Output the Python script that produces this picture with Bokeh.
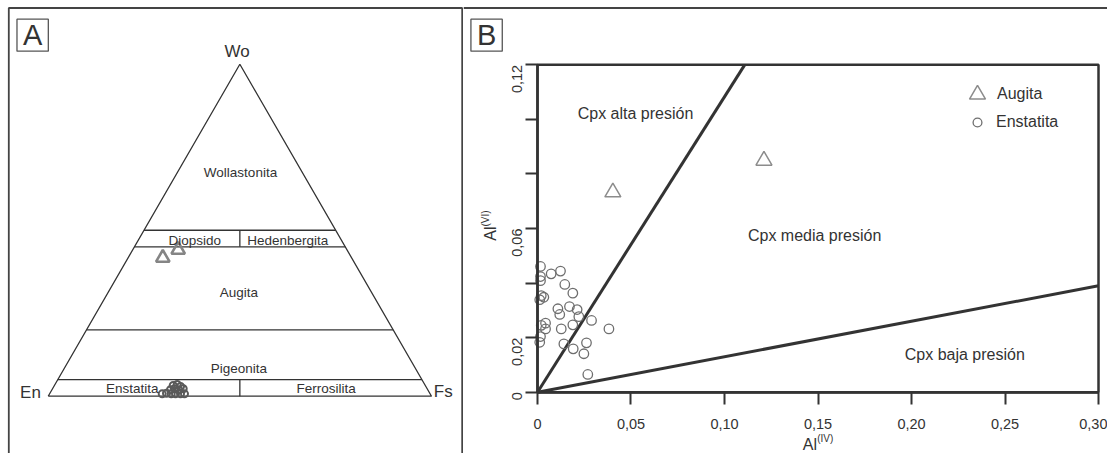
import math
from bokeh.plotting import figure
from bokeh.models import Range1d, FixedTicker, Label, Legend, LegendItem, Span, BoxAnnotation
from bokeh.layouts import row
from bokeh.embed import file_html
from bokeh.resources import INLINE

FONT = "Liberation Sans"
INK = "#333333"

# ---------------- Panel A data (ternary fractions Wo, Fs; En = 1 - Wo - Fs) ----------------
aug_wo = [0.417, 0.441]
aug_fs = [0.0905, 0.1186]
ens_wo = [0.0072, 0.0090, 0.0072, 0.0072, 0.0072, 0.0072, 0.0193, 0.0223, 0.0193, 0.0223, 0.0352, 0.0292, 0.0322]
ens_fs = [0.2938, 0.3041, 0.3173, 0.3285, 0.3416, 0.3520, 0.3094, 0.3184, 0.3311, 0.3411, 0.3190, 0.3306, 0.3100]
field_wo_limits = [0.50, 0.45, 0.20, 0.05]          # horizontal field boundaries
field_split_segments = [(0.45, 0.50), (0.0, 0.05)]   # En = Fs splits
field_names = ["Wollastonita", "Diopsido", "Hedenbergita", "Augita", "Pigeonita", "Enstatita", "Ferrosilita"]
vertex_names = ["Wo", "En", "Fs"]

# ---------------- Panel B data ----------------
aug_al_iv = [0.0403, 0.1211]
aug_al_vi = [0.0733, 0.0849]
ens_al_iv = [0.0016, 0.0016, 0.0016, 0.0073, 0.0123, 0.0146, 0.0189, 0.0034, 0.0012, 0.0109,
             0.0119, 0.0171, 0.0212, 0.0221, 0.0289, 0.0189, 0.0127, 0.0043, 0.0043, 0.0020,
             0.0016, 0.0012, 0.0141, 0.0191, 0.0262, 0.0248, 0.0269, 0.0382, 0.0020]
ens_al_vi = [0.0461, 0.0424, 0.0409, 0.0434, 0.0444, 0.0395, 0.0363, 0.0348, 0.0339, 0.0306,
             0.0285, 0.0314, 0.0303, 0.0277, 0.0263, 0.0247, 0.0232, 0.0253, 0.0232, 0.0245,
             0.0204, 0.0183, 0.0177, 0.0159, 0.0181, 0.0141, 0.0065, 0.0232, 0.0354]
alta_line_x = [0.0, 0.1108]
alta_line_y = [0.0, 0.12]
baja_line_x = [0.0, 0.30]
baja_line_y = [0.0, 0.039]
x_ticks = [0.0, 0.05, 0.10, 0.15, 0.20, 0.25, 0.30]
x_tick_labels = ["0", "0,05", "0,10", "0,15", "0,20", "0,25", "0,30"]
y_ticks = [0.0, 0.02, 0.04, 0.06, 0.08, 0.10, 0.12]
y_tick_labels = ["0", "0,02", "", "0,06", "", "", "0,12"]
region_names = ["Cpx alta presión", "Cpx media presión", "Cpx baja presión"]

S3 = math.sqrt(3) / 2


def tern(wo, fs):
    return fs + wo / 2.0, wo * S3


# ============================ Panel A ============================
pa = figure(width=463, height=453, x_range=Range1d(-0.12445, 1.08348),
            y_range=Range1d(-0.14949, 1.03235), output_backend="svg",
            toolbar_location=None, min_border=0,
            x_axis_location=None, y_axis_location=None)
pa.grid.visible = False
pa.outline_line_color = None
pa.background_fill_color = "white"

# outer frame of the figure (left edge, top edge, separator between panels)
pa.line([-0.10279, -0.10279, 1.08010, 1.08010], [-0.2, 1.01278, 1.01278, -0.2],
        line_color="#444444", line_width=1.8)

# triangle outline
tx = [tern(0, 0)[0], tern(0, 1)[0], tern(1, 0)[0], tern(0, 0)[0]]
ty = [tern(0, 0)[1], tern(0, 1)[1], tern(1, 0)[1], tern(0, 0)[1]]
pa.line(tx, ty, line_color=INK, line_width=1.3)
# horizontal field boundaries
hx, hy = [], []
for w in field_wo_limits:
    a = tern(w, 0)
    b = tern(w, 1 - w)
    hx.append([a[0], b[0]])
    hy.append([a[1], b[1]])
# En = Fs splits
for w0, w1 in field_split_segments:
    a = tern(w0, (1 - w0) / 2)
    b = tern(w1, (1 - w1) / 2)
    hx.append([a[0], b[0]])
    hy.append([a[1], b[1]])
pa.multi_line(hx, hy, line_color=INK, line_width=1.3)

# points
ax_, ay_ = zip(*[tern(w, f) for w, f in zip(aug_wo, aug_fs)])
ex_, ey_ = zip(*[tern(w, f) for w, f in zip(ens_wo, ens_fs)])
pa.scatter(list(ex_), list(ey_), marker="circle", size=7, fill_color=None,
           line_color="#5a5a5a", line_width=2)
pa.scatter(list(ax_), list(ay_), marker="triangle", size=13.5, fill_color=None,
           line_color="#858585", line_width=2.6)

# field labels
field_pos = [(0.5017, 0.5828), (0.3825, 0.4062), (0.6251, 0.4062), (0.4973, 0.2698),
             (0.4973, 0.0730), (0.2192, 0.0193), (0.7253, 0.0193)]
for name, (x, y) in zip(field_names, field_pos):
    pa.add_layout(Label(x=x, y=y, text=name, text_align="center", text_baseline="middle",
                        text_font=FONT, text_font_size="13.5px", text_color=INK))
vertex_pos = [(0.4931, 0.9001), (-0.0462, 0.0104), (1.0305, 0.0130)]
for name, (x, y) in zip(vertex_names, vertex_pos):
    pa.add_layout(Label(x=x, y=y, text=name, text_align="center", text_baseline="middle",
                        text_font=FONT, text_font_size="17px", text_color=INK))

# panel letter box
pa.add_layout(Label(x=-0.04057, y=0.94195, text="A", text_align="center", text_baseline="middle",
                    text_font=FONT, text_font_size="29px", text_color=INK,
                    border_line_color="#555555", border_line_width=1.3,
                    background_fill_color="white",
                    padding=dict(left=6, right=6, top=0, bottom=0)))

# ============================ Panel B ============================
pb = figure(width=644, height=453, x_range=Range1d(-0.03957, 0.30481),
            y_range=Range1d(-0.02247, 0.14359),
            output_backend="svg", toolbar_location=None, min_border=0)
pb.grid.visible = False
pb.outline_line_color = None

# top edge of the outer figure frame
pb.add_layout(Span(location=0.14084, dimension="width", line_color="#444444", line_width=1.8))
# plot box
pb.add_layout(BoxAnnotation(left=0, right=0.30, bottom=0, top=0.12, fill_color=None,
                            line_color=INK, line_width=2.5, line_alpha=1.0))

for ax in (pb.xaxis[0], pb.yaxis[0]):
    ax.fixed_location = 0
    ax.axis_line_color = INK
    ax.axis_line_width = 2.5
    ax.major_tick_line_color = INK
    ax.major_tick_line_width = 2
    ax.major_tick_out = 12
    ax.major_tick_in = 0
    ax.minor_tick_line_color = None
    ax.major_label_text_font = FONT
    ax.major_label_text_font_size = "14.5px"
    ax.major_label_text_color = INK

pb.xaxis.bounds = (0, 0.30)
pb.xaxis.ticker = FixedTicker(ticks=x_ticks)
pb.xaxis.major_label_overrides = dict(zip(x_ticks, x_tick_labels))
pb.xaxis.major_label_standoff = 15
pb.yaxis.bounds = (0, 0.12)
pb.yaxis.ticker = FixedTicker(ticks=y_ticks)
pb.yaxis.major_label_overrides = dict(zip(y_ticks, y_tick_labels))
pb.yaxis.major_label_orientation = math.pi / 2
pb.yaxis.major_label_standoff = 8

pb.line(alta_line_x, alta_line_y, line_color=INK, line_width=3)
pb.line(baja_line_x, baja_line_y, line_color=INK, line_width=3)

ens_r = pb.scatter(ens_al_iv, ens_al_vi, marker="circle", size=9.5, fill_color=None,
                   line_color="#6e6e6e", line_width=1.3)
aug_r = pb.scatter(aug_al_iv, aug_al_vi, marker="triangle", size=16, fill_color=None,
                   line_color="#8c8c8c", line_width=1.5)

leg1 = Legend(items=[LegendItem(label="Augita", renderers=[aug_r])], location=(494, 339),
              glyph_width=40, glyph_height=40, label_standoff=0, padding=0, margin=0,
              spacing=0, border_line_color=None, background_fill_alpha=0,
              label_text_font=FONT, label_text_font_size="16px", label_text_color=INK)
leg2 = Legend(items=[LegendItem(label="Enstatita", renderers=[ens_r])], location=(503, 320),
              glyph_width=22, glyph_height=22, label_standoff=8, padding=0, margin=0,
              spacing=0, border_line_color=None, background_fill_alpha=0,
              label_text_font=FONT, label_text_font_size="16px", label_text_color=INK)
pb.add_layout(leg1)
pb.add_layout(leg2)

region_pos = [(0.0524, 0.1022), (0.1482, 0.0574), (0.2285, 0.0138)]
for name, (x, y) in zip(region_names, region_pos):
    pb.add_layout(Label(x=x, y=y, text=name, text_align="center", text_baseline="middle",
                        text_font=FONT, text_font_size="16px", text_color=INK))

# axis titles with superscripts
pb.add_layout(Label(x=-0.02513, y=0.05817, text="Al", angle=math.pi / 2, text_align="center",
                    text_baseline="middle", text_font=FONT, text_font_size="16px", text_color=INK))
pb.add_layout(Label(x=-0.0280, y=0.06367, text="(VI)", angle=math.pi / 2, text_align="center",
                    text_baseline="middle", text_font=FONT, text_font_size="10px", text_color=INK))
pb.add_layout(Label(x=0.1457, y=-0.0190, text="Al", text_align="center", text_baseline="middle",
                    text_font=FONT, text_font_size="16px", text_color=INK))
pb.add_layout(Label(x=0.1539, y=-0.0170, text="(IV)", text_align="center", text_baseline="middle",
                    text_font=FONT, text_font_size="10px", text_color=INK))

pb.add_layout(Label(x=-0.02722, y=0.13088, text="B", text_align="center", text_baseline="middle",
                    text_font=FONT, text_font_size="29px", text_color=INK,
                    border_line_color="#555555", border_line_width=1.3,
                    background_fill_color="white",
                    padding=dict(left=6, right=6, top=0, bottom=0)))

layout = row(pa, pb)

open("out.html", "w").write(file_html(layout, INLINE))
